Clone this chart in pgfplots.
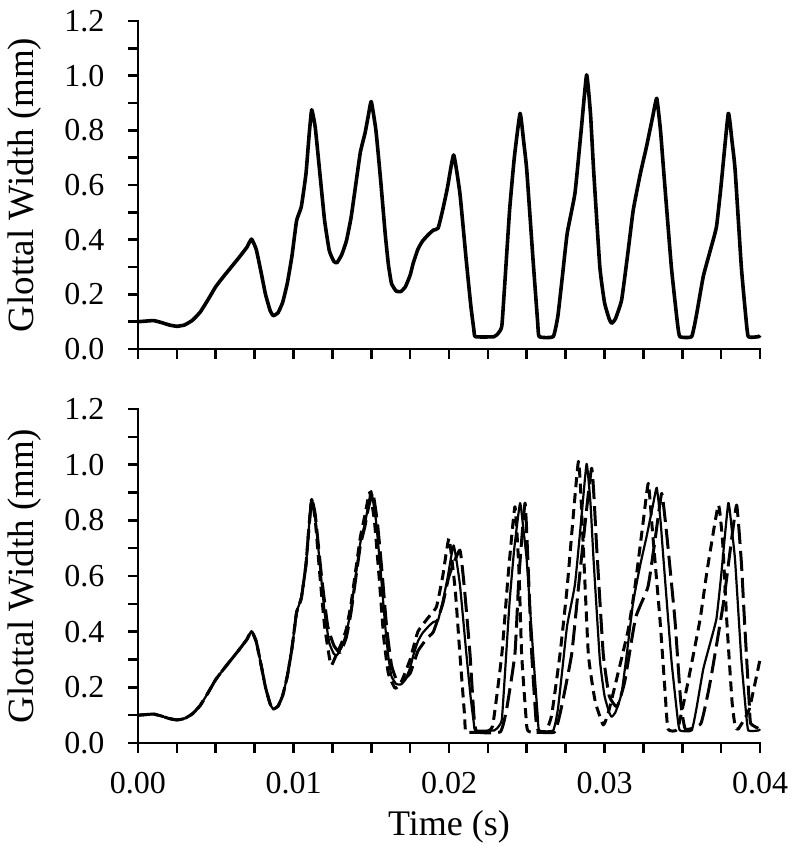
\documentclass[border=0pt]{standalone}
\usepackage{fontspec}
\setmainfont{Liberation Serif}
\usepackage{pgfplots}
\usepackage{pgfplotstable}
\pgfplotsset{compat=1.18}

\pgfplotstableread{
x y
0 0.100
0.0005 0.102
0.001 0.104
0.0015 0.097
0.002 0.088
0.0025 0.083
0.003 0.088
0.0035 0.105
0.004 0.135
0.0045 0.180
0.005 0.228
0.0055 0.265
0.006 0.300
0.0065 0.335
0.007 0.372
0.0073 0.402
0.0076 0.365
0.0079 0.285
0.0082 0.200
0.0085 0.140
0.0087 0.122
0.0090 0.132
0.0093 0.170
0.0096 0.240
0.0099 0.340
0.0102 0.470
0.0105 0.520
0.0108 0.640
0.0110 0.780
0.01117 0.875
0.0114 0.810
0.0117 0.640
0.0120 0.470
0.0123 0.360
0.0126 0.320
0.0128 0.316
0.0131 0.345
0.0134 0.395
0.0137 0.480
0.0140 0.600
0.0143 0.720
0.0146 0.790
0.0148 0.850
0.0150 0.905
0.0153 0.800
0.0156 0.620
0.0159 0.420
0.0161 0.310
0.0163 0.240
0.0166 0.212
0.0169 0.210
0.0172 0.228
0.0175 0.270
0.0177 0.314
0.0180 0.365
0.0183 0.395
0.0187 0.420
0.0190 0.435
0.0193 0.442
0.0196 0.510
0.0199 0.590
0.0203 0.710
0.0207 0.570
0.0211 0.330
0.0214 0.160
0.0216 0.070
0.0217 0.045
0.0229 0.045
0.0232 0.060
0.0234 0.085
0.0236 0.250
0.0239 0.510
0.0242 0.700
0.02457 0.862
0.0248 0.760
0.0250 0.655
0.0254 0.330
0.0257 0.100
0.0258 0.045
0.0267 0.045
0.0270 0.120
0.0273 0.270
0.0276 0.423
0.0281 0.570
0.0285 0.800
0.02885 1.003
0.0291 0.860
0.0293 0.655
0.0297 0.300
0.0300 0.170
0.0303 0.110
0.03046 0.094
0.0307 0.110
0.0311 0.179
0.0315 0.350
0.03185 0.509
0.0323 0.640
0.0327 0.740
0.0331 0.850
0.03336 0.917
0.0336 0.800
0.0338 0.655
0.0343 0.300
0.0347 0.090
0.03485 0.045
0.0356 0.045
0.0359 0.120
0.03635 0.265
0.0368 0.360
0.0372 0.447
0.0375 0.600
0.03796 0.862
0.0382 0.760
0.0384 0.655
0.0388 0.300
0.0391 0.110
0.03925 0.045
0.0399 0.045
0.0400 0.050
}\solidtab

\pgfplotstableread{
x y
0 0.100
0.0005 0.102
0.001 0.104
0.0015 0.097
0.002 0.088
0.0025 0.083
0.003 0.088
0.0035 0.105
0.004 0.135
0.0045 0.180
0.005 0.228
0.0055 0.265
0.006 0.300
0.0065 0.335
0.007 0.372
0.0073 0.402
0.0076 0.365
0.0079 0.285
0.0082 0.200
0.0085 0.140
0.0087 0.122
0.0090 0.132
0.0093 0.170
0.0096 0.240
0.0099 0.340
0.0102 0.470
0.0105 0.520
0.0108 0.640
0.0110 0.780
0.01117 0.875
0.0114 0.800
0.0117 0.600
0.0120 0.420
0.0124 0.280
0.0127 0.310
0.0131 0.360
0.0134 0.410
0.0137 0.500
0.0140 0.620
0.0143 0.740
0.0146 0.820
0.0149 0.900
0.0152 0.800
0.0155 0.600
0.0158 0.380
0.0161 0.250
0.01653 0.197
0.0169 0.215
0.0175 0.300
0.0180 0.400
0.0188 0.460
0.0192 0.490
0.0196 0.600
0.0200 0.735
0.0204 0.550
0.0207 0.320
0.0210 0.100
0.0211 0.040
0.0222 0.040
0.0228 0.060
0.0234 0.320
0.0238 0.600
0.02424 0.849
0.0245 0.620
0.02467 0.320
0.0250 0.060
0.0252 0.040
0.0262 0.040
0.0266 0.100
0.02714 0.320
0.0276 0.560
0.02832 1.011
0.0286 0.750
0.02896 0.320
0.0294 0.150
0.02992 0.065
0.0303 0.120
0.0315 0.400
0.03196 0.562
0.0325 0.800
0.03282 0.933
0.0331 0.750
0.03357 0.442
0.0339 0.180
0.03408 0.050
0.0347 0.050
0.0353 0.200
0.03614 0.442
0.0366 0.620
0.03732 0.855
0.0376 0.720
0.03786 0.442
0.0382 0.150
0.0384 0.060
0.0386 0.050
0.0393 0.120
0.0400 0.300
}\shorttab

\pgfplotstableread{
x y
0 0.100
0.0005 0.102
0.001 0.104
0.0015 0.097
0.002 0.088
0.0025 0.083
0.003 0.088
0.0035 0.105
0.004 0.135
0.0045 0.180
0.005 0.228
0.0055 0.265
0.006 0.300
0.0065 0.335
0.007 0.372
0.0073 0.402
0.0076 0.365
0.0079 0.285
0.0082 0.200
0.0085 0.140
0.0087 0.122
0.0090 0.132
0.0093 0.170
0.0096 0.240
0.0099 0.340
0.0102 0.470
0.0105 0.520
0.0108 0.640
0.0110 0.780
0.01117 0.875
0.0114 0.820
0.0118 0.600
0.0122 0.420
0.0126 0.350
0.0130 0.325
0.0134 0.380
0.0137 0.470
0.0140 0.590
0.0143 0.710
0.0146 0.780
0.0148 0.840
0.0151 0.900
0.0154 0.790
0.0157 0.610
0.0160 0.410
0.0163 0.280
0.0166 0.230
0.0169 0.220
0.0175 0.250
0.0180 0.330
0.0186 0.377
0.0190 0.400
0.0196 0.500
0.0200 0.600
0.0207 0.693
0.0210 0.550
0.02135 0.320
0.0216 0.100
0.0218 0.040
0.0233 0.040
0.0237 0.120
0.02424 0.320
0.0245 0.600
0.02489 0.862
0.0251 0.620
0.02532 0.320
0.0256 0.080
0.0258 0.040
0.0268 0.040
0.0272 0.120
0.02789 0.320
0.0284 0.600
0.02917 0.987
0.0295 0.700
0.02992 0.320
0.0303 0.170
0.0308 0.130
0.0313 0.220
0.0320 0.450
0.0328 0.562
0.0333 0.750
0.03368 0.897
0.0340 0.750
0.03453 0.442
0.0349 0.150
0.0352 0.050
0.0362 0.070
0.0368 0.220
0.03764 0.500
0.0381 0.700
0.0385 0.855
0.0388 0.650
0.0390 0.442
0.0393 0.150
0.0394 0.070
0.0400 0.050
}\longtab

\pgfplotsset{
  gw/.style={
    scale only axis,
    width=622pt,
    xmin=0, xmax=0.04, ymin=0, ymax=1.2,
    axis x line*=bottom, axis y line*=left,
    axis line style={line width=2.8pt, line cap=rect},
    major tick style={line width=2.6pt, black},
    minor tick style={line width=2.6pt, black},
    tick align=outside,
    major tick length=10pt, minor tick length=10pt,
    xtick={0,0.01,0.02,0.03,0.04},
    minor x tick num=3,
    ytick={0,0.2,0.4,0.6,0.8,1.0,1.2},
    minor y tick num=1,
    scaled x ticks=false, scaled y ticks=false,
    /pgf/number format/assume math mode=true,
    yticklabel style={font=\fontsize{32}{32}\selectfont, xshift=-20pt,
      /pgf/number format/fixed, /pgf/number format/fixed zerofill, /pgf/number format/precision=1},
    xticklabels={},
    ylabel={Glottal Width (mm)},
    ylabel style={font=\fontsize{37}{37}\selectfont, at={(axis description cs:-0.182,0.5)}, anchor=center},
    clip=false,
  }
}

\begin{document}
\begin{tikzpicture}
\useasboundingbox (0,0) rectangle (800pt,862pt);
\begin{axis}[gw, height=328pt, at={(138pt,513pt)}, anchor=south west]
\addplot[black, line width=3.6pt, line join=round, smooth, tension=0.25] table[x=x,y=y] {\solidtab};
\end{axis}
\begin{axis}[gw, height=334pt, at={(138pt,119pt)}, anchor=south west,
  xlabel={Time (s)},
  xlabel style={font=\fontsize{36}{36}\selectfont, at={(axis description cs:0.5,-0.25)}, anchor=center}]
\addplot[black, line width=3pt, line join=round, smooth, tension=0.25, dash pattern=on 20pt off 7pt] table[x=x,y=y] {\longtab};
\addplot[black, line width=3pt, line join=round, smooth, tension=0.25, dash pattern=on 10pt off 6pt] table[x=x,y=y] {\shorttab};
\addplot[black, line width=2.2pt, line join=round, smooth, tension=0.25] table[x=x,y=y] {\solidtab};
\node[font=\fontsize{32}{32}\selectfont, anchor=center, yshift=-40pt] at (axis cs:0,0) {0.00};
\node[font=\fontsize{32}{32}\selectfont, anchor=center, yshift=-40pt] at (axis cs:0.01,0) {0.01};
\node[font=\fontsize{32}{32}\selectfont, anchor=center, yshift=-40pt] at (axis cs:0.02,0) {0.02};
\node[font=\fontsize{32}{32}\selectfont, anchor=center, yshift=-40pt] at (axis cs:0.03,0) {0.03};
\node[font=\fontsize{32}{32}\selectfont, anchor=center, yshift=-40pt] at (axis cs:0.04,0) {0.04};
\end{axis}
\end{tikzpicture}
\end{document}
